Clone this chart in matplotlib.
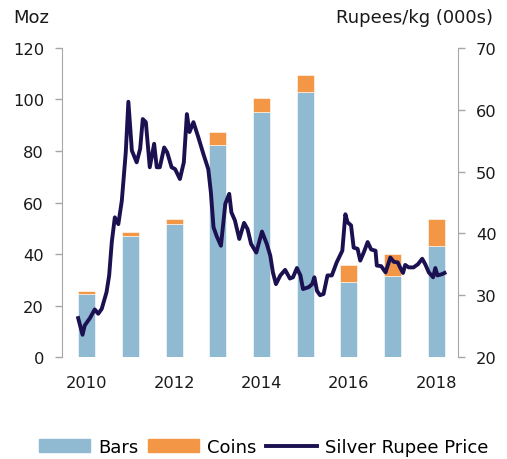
import matplotlib.pyplot as plt
import matplotlib
import numpy as np
from matplotlib.patches import Patch
from matplotlib.lines import Line2D

matplotlib.rcParams['font.family'] = ['DejaVu Sans']

# annual imports (Moz)
years = [2010, 2011, 2012, 2013, 2014, 2015, 2016, 2017, 2018]
bars = [24.5, 47.1, 51.5, 82.3, 95.0, 102.8, 29.0, 31.6, 43.0]
coins = [1.0, 1.4, 2.1, 5.0, 5.6, 6.8, 6.8, 8.5, 10.5]

# silver price, rupees/kg (000s)
price_t = [2009.80, 2009.90, 2009.95, 2010.07, 2010.18, 2010.26, 2010.34, 2010.45,
           2010.51, 2010.57, 2010.64, 2010.72, 2010.80, 2010.89, 2010.95, 2011.03,
           2011.14, 2011.22, 2011.28, 2011.35, 2011.44, 2011.54, 2011.60, 2011.67,
           2011.77, 2011.84, 2011.94, 2012.02, 2012.13, 2012.22, 2012.29, 2012.35,
           2012.44, 2012.55, 2012.67, 2012.78, 2012.84, 2012.90, 2012.97, 2013.07,
           2013.17, 2013.26, 2013.31, 2013.39, 2013.49, 2013.60, 2013.68, 2013.76,
           2013.88, 2014.01, 2014.12, 2014.20, 2014.26, 2014.33, 2014.43, 2014.54,
           2014.65, 2014.72, 2014.81, 2014.89, 2014.95, 2015.08, 2015.16, 2015.21,
           2015.27, 2015.34, 2015.42, 2015.51, 2015.61, 2015.72, 2015.85, 2015.92,
           2015.97, 2016.05, 2016.11, 2016.20, 2016.26, 2016.34, 2016.43, 2016.51,
           2016.61, 2016.64, 2016.74, 2016.84, 2016.95, 2017.03, 2017.12, 2017.18,
           2017.24, 2017.29, 2017.37, 2017.48, 2017.58, 2017.68, 2017.75, 2017.83,
           2017.93, 2017.98, 2018.03, 2018.13, 2018.19]
price = [26.3, 23.6, 25.1, 26.3, 27.7, 27.0, 27.8, 30.5,
         33.2, 38.6, 42.6, 41.5, 45.3, 53.1, 61.3, 53.4,
         51.5, 53.7, 58.5, 58.0, 50.7, 54.5, 50.7, 50.7,
         53.9, 53.1, 50.7, 50.4, 48.8, 51.5, 59.3, 56.4,
         58.0, 55.6, 52.8, 50.4, 46.6, 41.0, 39.6, 38.0,
         44.8, 46.4, 43.4, 42.1, 39.1, 41.7, 40.7, 38.3,
         36.9, 40.3, 38.3, 36.4, 33.7, 31.8, 33.2, 34.1,
         32.7, 32.9, 34.4, 33.2, 31.0, 31.3, 31.8, 32.9,
         30.7, 30.0, 30.2, 33.2, 33.2, 35.3, 37.2, 43.1,
         41.8, 41.3, 37.7, 37.5, 35.6, 36.9, 38.6, 37.4,
         37.2, 34.8, 34.7, 33.7, 36.1, 35.4, 35.3, 34.4,
         33.6, 34.9, 34.5, 34.5, 35.0, 35.9, 35.0, 33.7,
         32.9, 34.4, 33.2, 33.4, 33.6]

bar_col = '#8FBAD2'
coin_col = '#F39646'
line_col = '#1B1150'
axis_col = '#A6A6A6'
fs = 11.7     # tick labels
fs2 = 13      # unit labels and legend

fig = plt.figure(figsize=(5.07, 4.60), dpi=100)
ax = fig.add_axes([0.1223, 0.2217, 0.7811, 0.6718])

ax.bar(years, bars, width=0.39, color=bar_col, edgecolor='white', linewidth=0.4, zorder=1)
ax.bar(years, coins, width=0.39, bottom=bars, color=coin_col, edgecolor='white',
       linewidth=0.4, zorder=1)
ax.set_xlim(2009.43, 2018.5)
ax.set_ylim(0, 120)
ax.set_yticks(np.arange(0, 121, 20))
ax.set_xticks([2010, 2012, 2014, 2016, 2018])

ax2 = ax.twinx()
ax2.plot(price_t, price, color=line_col, linewidth=2.8, zorder=3)
ax2.set_ylim(20, 70)
ax2.set_yticks(np.arange(20, 71, 10))

for a in (ax, ax2):
    a.spines['top'].set_visible(False)
    a.spines['bottom'].set_visible(False)
    a.spines['left'].set_color(axis_col)
    a.spines['right'].set_color(axis_col)
    a.tick_params(axis='y', colors=axis_col, labelcolor='#1a1a1a', labelsize=fs,
                  length=5, width=1)
    a.tick_params(axis='x', length=0, labelsize=fs, pad=13, labelcolor='#1a1a1a')
ax.spines['right'].set_visible(False)
ax2.spines['left'].set_visible(False)
ax.tick_params(axis='y', pad=8)
ax2.tick_params(axis='y', pad=8)

fig.text(0.026, 0.96, 'Moz', fontsize=fs2, color='#1a1a1a', va='center', ha='left')
fig.text(0.973, 0.96, 'Rupees/kg (000s)', fontsize=fs2, color='#1a1a1a',
         va='center', ha='right')

handles = [Patch(color=bar_col, label='Bars'),
           Patch(color=coin_col, label='Coins'),
           Line2D([0], [0], color=line_col, linewidth=2.8, label='Silver Rupee Price')]
fig.legend(handles=handles, loc='center', bbox_to_anchor=(0.52, 0.026), ncol=3,
           frameon=False, fontsize=fs2, handlelength=2.8, handletextpad=0.45,
           columnspacing=0.55, borderaxespad=0)

fig.savefig('out.png', dpi=100)
